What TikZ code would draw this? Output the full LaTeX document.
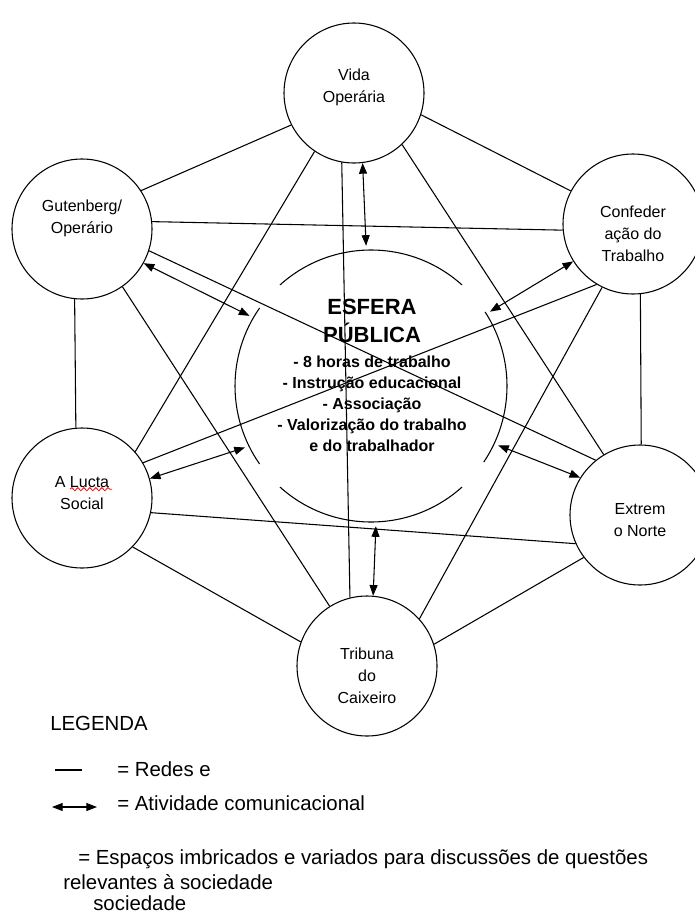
\documentclass[tikz,border=0pt]{standalone}
\usepackage{fontspec}
\setmainfont{Liberation Sans}
\usetikzlibrary{arrows.meta, positioning, decorations.pathmorphing}

\begin{document}
\begin{tikzpicture}[
  x=0.75pt, y=0.75pt,
  circ/.style={draw, circle, minimum size=105pt, inner sep=0pt, line width=0.8pt},
  ctxt/.style={align=center, font=\fontsize{12}{16.5}\selectfont, inner sep=0pt},
  sph/.style={circle, minimum size=210pt, inner sep=0pt},
  ttl/.style={align=center, font=\bfseries\fontsize{16.5}{21}\selectfont},
  lst/.style={align=center, font=\bfseries\fontsize{12}{15.75}\selectfont},
  leg/.style={anchor=base west, font=\fontsize{15.3}{18}\selectfont, inner sep=0pt},
  ln/.style={line width=0.8pt},
  arr/.style={{Triangle[length=8pt,width=6pt]}-{Triangle[length=8pt,width=6pt]}, line width=0.8pt},
  wavy/.style={red, line width=0.6pt, decorate,
               decoration={snake, amplitude=1.2pt, segment length=4.5pt}},
]
\useasboundingbox (0,0) rectangle (695,-917);
\clip (0,0) rectangle (695,-917);

%% ---- Jornais (circles) ----
\node[circ] (V) at (354,-93)  {};
\node[circ] (G) at (82,-229)  {};
\node[circ] (C) at (633,-224) {};
\node[circ] (L) at (82,-498)  {};
\node[circ] (E) at (640,-515) {};
\node[circ] (T) at (367,-666) {};

\node[ctxt] (Vt) at ([yshift=4]V.center)  {Vida\\Operária};
\node[ctxt] (Gt) at ([yshift=8]G.center)  {Gutenberg/\\Operário};
\node[ctxt] (Ct) at ([yshift=-7]C.center) {Confeder\\ação do\\Trabalho};
\node[ctxt] (Lt) at ([yshift=4]L.center)  {A Lucta\\Social};
\node[ctxt] (Et) at ([yshift=-4]E.center) {Extrem\\o Norte};
\node[ctxt] (Tt) at ([yshift=-7]T.center) {Tribuna\\do\\Caixeiro};
\draw[wavy] ([shift={(-12,3.5)}]Lt.center) -- ++(42,0);

%% ---- Esfera publica (open circle) ----
\node[sph] (S) at (371,-386) {};
\draw[ln] ([shift={(48:136)}]S.center)  arc[start angle=48,  end angle=132, radius=136];
\draw[ln] ([shift={(145:136)}]S.center) arc[start angle=145, end angle=215, radius=136];
\draw[ln] ([shift={(228:136)}]S.center) arc[start angle=228, end angle=312, radius=136];
\draw[ln] ([shift={(-34:136)}]S.center) arc[start angle=-34, end angle=33,  radius=136];

\node[ttl] (St) at (372,-321) {ESFERA\\PÚBLICA};
\node[lst] (Sl) at (372,-404) {- 8 horas de trabalho\\- Instrução educacional\\- Associação\\- Valorização do trabalho\\e do trabalhador};

%% ---- Redes ----
\draw[ln] (V.207) -- (G.33);
\draw[ln] (V.-18) -- (C.152);
\draw[ln] (G.6)   -- (C.185);
\draw[ln] (G.-96) -- (L.95);
\draw[ln] (C.-84) -- (E.89);
\draw[ln] (L.-12) -- (E.204);
\draw[ln] (L.-44) -- (T.160);
\draw[ln] (E.217) -- (T.18);
\draw[ln] (G.-18) -- (E.129);
\draw[ln] (G.-55) -- (T.122);
\draw[ln] (C.239) -- (L.30);
\draw[ln] (C.244) -- (T.42);
\draw[ln] (V.236) -- (L.41);
\draw[ln] (V.-47) -- (E.121);
\draw[ln] (V.-100) -- (T.104);

%% ---- Atividade comunicacional ----
\draw[arr] (V.-83) -- (S.92);
\draw[arr] (G.-29) -- (S.150);
\draw[arr] (C.212) -- (S.32);
\draw[arr] (L.16)  -- (S.206);
\draw[arr] (E.148) -- (S.-25);
\draw[arr] (T.85)  -- (S.-88);

%% ---- Legenda ----
\node[leg] (kT)  at (50,-730)  {LEGENDA};
\node[leg] (kR)  at (117,-776) {= Redes e};
\node[leg] (kA)  at (117,-810) {= Atividade comunicacional};
\node[leg] (kE1) at (78,-864)  {= Espaços imbricados e variados para discussões de questões};
\node[leg] (kE2) at (63,-889)  {relevantes à sociedade};
\node[leg] (kE3) at (93,-910)  {sociedade};
\coordinate (kRa) at (55,-770);
\coordinate (kRb) at (82,-770);
\coordinate (kAa) at (52,-807);
\coordinate (kAb) at (97,-807);
\draw[ln] (kRa) -- (kRb);
\draw[arr] (kAa) -- (kAb);
\end{tikzpicture}
\end{document}
